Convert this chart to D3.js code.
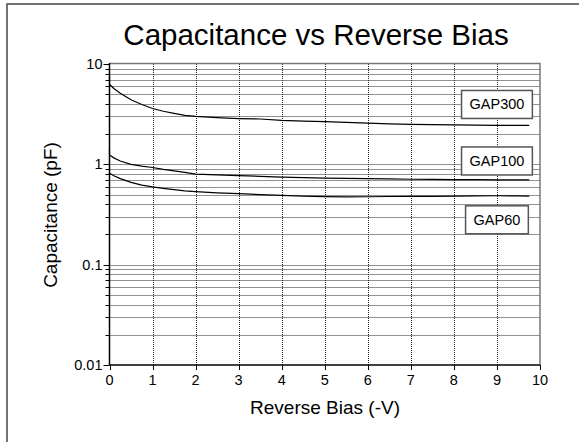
<!DOCTYPE html>
<html>
<head>
<meta charset="utf-8">
<script src="https://cdn.jsdelivr.net/npm/d3@7"></script>
<style>
  html, body { margin: 0; padding: 0; background: #fff; }
  svg { display: block; font-family: "Liberation Sans", Arial, sans-serif; }
</style>
</head>
<body>
<svg id="chart" width="579" height="442"></svg>
<script>
// ---- data ----
const title = "Capacitance vs Reverse Bias";
const xTitle = "Reverse Bias (-V)";
const yTitle = "Capacitance (pF)";
const xTicks = [0, 1, 2, 3, 4, 5, 6, 7, 8, 9, 10];
const yTicks = [0.01, 0.1, 1, 10];
const yTickLabels = ["0.01", "0.1", "1", "10"];
const seriesNames = ["GAP300", "GAP100", "GAP60"];

const bias = [0, 0, 0.1, 0.25, 0.5, 0.75, 1.0, 1.25, 1.5, 1.75, 2.0, 2.5, 3.0, 3.5, 4.0, 4.5, 5.0, 5.5, 6.0, 6.5, 7.0, 7.5, 8.0, 8.5, 9.0, 9.5, 9.75];
const gap300 = [7.6, 6.3, 5.7, 5.1, 4.4, 3.95, 3.6, 3.38, 3.22, 3.08, 3.0, 2.92, 2.86, 2.83, 2.74, 2.7, 2.66, 2.62, 2.57, 2.53, 2.5, 2.49, 2.47, 2.46, 2.45, 2.45, 2.44];
const gap100 = [1.45, 1.24, 1.16, 1.08, 1.0, 0.96, 0.93, 0.89, 0.86, 0.83, 0.80, 0.785, 0.77, 0.76, 0.745, 0.738, 0.73, 0.725, 0.72, 0.715, 0.71, 0.708, 0.705, 0.703, 0.70, 0.70, 0.70];
const gap60  = [0.84, 0.815, 0.77, 0.72, 0.66, 0.62, 0.595, 0.575, 0.56, 0.545, 0.535, 0.52, 0.51, 0.50, 0.49, 0.482, 0.476, 0.474, 0.475, 0.478, 0.48, 0.48, 0.482, 0.484, 0.486, 0.484, 0.482];
const labelAt = [[9.0, 3.95], [9.0, 1.08], [9.0, 0.28]];

// ---- chart ----
const svg = d3.select("#chart");
const pL = 109.5, pR = 540, pT = 64, pB = 365;
const x = d3.scaleLinear().domain([0, 10]).range([pL, pR]);
const y = d3.scaleLog().domain([0.01, 10]).range([pB, pT]);

// outer frame
svg.append("path").attr("d", `M7,442 L7,4 L579,4`)
  .attr("fill", "none").attr("stroke", "#444").attr("stroke-width", 1.5);

// title
svg.append("text").attr("x", 316).attr("y", 45).attr("text-anchor", "middle")
  .attr("font-size", 29.5).attr("fill", "#000").text(title);

// grid
const g = svg.append("g");
const minor = [];
[0.01, 0.1, 1].forEach(d => { for (let k = 1; k <= 9; k++) minor.push(d * k); });
const hGrid = minor.filter(v => v > 0.011);
g.selectAll("line.hg").data(hGrid).join("line").attr("class", "hg")
  .attr("x1", pL).attr("x2", pR)
  .attr("y1", d => Math.round(y(d)) + 0.5).attr("y2", d => Math.round(y(d)) + 0.5)
  .attr("stroke", "#222").attr("stroke-width", 1).attr("stroke-dasharray", "1,1");
g.selectAll("line.vg").data(xTicks.filter(d => d > 0 && d < 10)).join("line").attr("class", "vg")
  .attr("x1", d => Math.round(x(d)) + 0.5).attr("x2", d => Math.round(x(d)) + 0.5)
  .attr("y1", pT).attr("y2", pB)
  .attr("stroke", "#222").attr("stroke-width", 1).attr("stroke-dasharray", "1,1");

// plot border (top/right gray)
svg.append("path").attr("d", `M${pL},${pT - 0.5} L${pR},${pT - 0.5} L${pR},${pB}`)
  .attr("fill", "none").attr("stroke", "#777").attr("stroke-width", 1.5);

// y axis
const yAxisG = svg.append("g");
yAxisG.append("line").attr("x1", pL).attr("x2", pL).attr("y1", pT - 1).attr("y2", pB)
  .attr("stroke", "#000").attr("stroke-width", 1.5);
yAxisG.selectAll("line.mt").data(minor.concat([10])).join("line").attr("class", "mt")
  .attr("x1", d => yTicks.some(t => Math.abs(t - d) < 1e-9) ? pL - 6 : pL - 4).attr("x2", pL)
  .attr("y1", d => Math.round(y(d)) + 0.5).attr("y2", d => Math.round(y(d)) + 0.5)
  .attr("stroke", "#000").attr("stroke-width", 1);
yAxisG.selectAll("text").data(yTicks).join("text")
  .attr("x", pL - 7).attr("y", d => y(d) + 5).attr("text-anchor", "end")
  .attr("font-size", 14.5).text((d, i) => yTickLabels[i]);

// x axis
const xAxisG = svg.append("g");
xAxisG.append("line").attr("x1", pL).attr("x2", pR).attr("y1", pB).attr("y2", pB)
  .attr("stroke", "#000").attr("stroke-width", 1.5);
xAxisG.selectAll("line.xt").data(xTicks).join("line").attr("class", "xt")
  .attr("x1", d => Math.round(x(d)) + 0.5).attr("x2", d => Math.round(x(d)) + 0.5)
  .attr("y1", pB).attr("y2", pB + 5)
  .attr("stroke", "#000").attr("stroke-width", 1);
xAxisG.selectAll("text").data(xTicks).join("text")
  .attr("x", d => x(d)).attr("y", pB + 20).attr("text-anchor", "middle")
  .attr("font-size", 14.5).text(d => d);

// axis titles
svg.append("text").attr("x", 325).attr("y", 414).attr("text-anchor", "middle")
  .attr("font-size", 19).text(xTitle);
svg.append("text").attr("transform", `translate(57,215) rotate(-90)`).attr("text-anchor", "middle")
  .attr("font-size", 19).text(yTitle);

// curves
const line = d3.line().x(d => x(d[0])).y(d => y(d[1]));
[gap300, gap100, gap60].forEach(vals => {
  svg.append("path").datum(bias.map((b, i) => [b, vals[i]]))
    .attr("d", line).attr("fill", "none").attr("stroke", "#000").attr("stroke-width", 1.2);
});

// labels
seriesNames.forEach((name, i) => {
  const cx = x(labelAt[i][0]), cy = y(labelAt[i][1]);
  const lg = svg.append("g");
  const rect = lg.append("rect");
  const t = lg.append("text").attr("x", cx).attr("y", cy + 5).attr("text-anchor", "middle")
    .attr("font-size", 14.5).text(name);
  const bb = t.node().getBBox();
  const w = bb.width + 16, h = 28;
  rect.attr("x", cx - w / 2).attr("y", cy - h / 2).attr("width", w).attr("height", h)
    .attr("fill", "#fff").attr("stroke", "#555").attr("stroke-width", 1.5);
});
</script>
</body>
</html>
